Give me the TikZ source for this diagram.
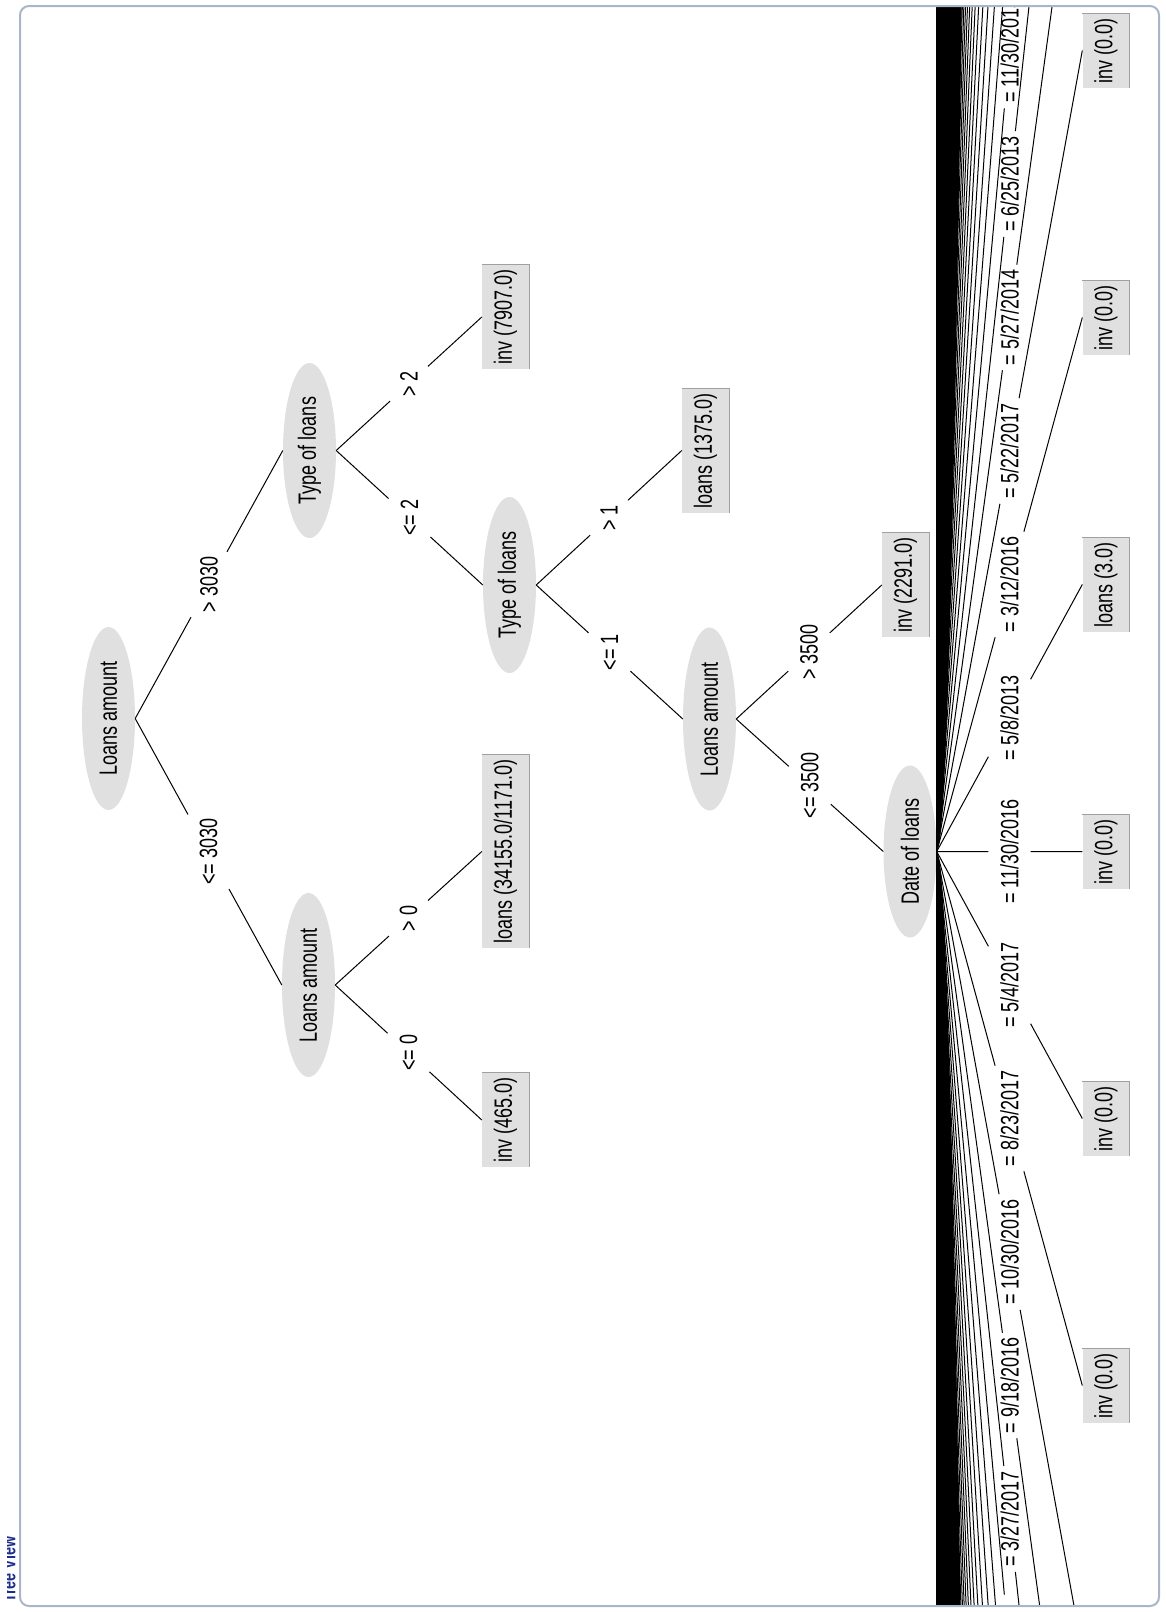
\documentclass[tikz,border=0pt]{standalone}
\usepackage{graphicx}
\usepackage{fontspec}
\setmainfont{Liberation Sans}
\usetikzlibrary{shapes.geometric,calc}
\definecolor{nodegray}{HTML}{E0E0E0}
\definecolor{shadowgray}{HTML}{A0A0A0}
\definecolor{framecol}{HTML}{A9B6C8}
\definecolor{titleblue}{HTML}{1C2E8C}
\newcommand\tx[1]{\scalebox{0.72}[1]{#1}}
\newcommand\gapedge[3]{%
  \draw[edge] (#1) -- ($(#1)!{0.5-#3}!(#2)$);
  \draw[edge] ($(#1)!{0.5+#3}!(#2)$) -- (#2);}
\begin{document}
\begin{tikzpicture}[x=1pt,y=-1pt,
  every node/.style={font=\fontsize{25}{30}\selectfont},
  ellnode/.style={ellipse, fill=nodegray, rotate=90, inner sep=0pt, minimum height=53pt, minimum width=#1},
  leafnode/.style={rectangle, fill=nodegray, rotate=90, inner xsep=4.5pt, inner ysep=0pt, minimum height=47pt},
  leafedge/.style={shadowgray, line width=1pt},
  edgelab/.style={rotate=90, inner sep=0pt},
  edge/.style={line width=1pt, black},
]
\useasboundingbox (0,0) rectangle (1165,1612);
\begin{scope}
\clip[rounded corners=8pt] (21,7) rectangle (1158,1605);
% inner nodes
\node[ellnode=183pt] (r) at (108.5,718.5) {\tx{Loans amount}};
\node[ellnode=175pt] (t1) at (309.5,450.5) {\tx{Type of loans}};
\node[ellnode=184pt] (a2) at (308.5,985) {\tx{Loans amount}};
\node[ellnode=176pt] (t2) at (509.5,585) {\tx{Type of loans}};
\node[ellnode=183pt] (a3) at (709.5,719) {\tx{Loans amount}};
\node[ellnode=172pt] (dt) at (910,851.5) {\tx{Date of loans}};
% leaves
\node[leafnode] (l1) at (505.5,317) {\tx{inv (7907.0)}};
\node[leafnode] (l2) at (505.5,851.5) {\tx{loans (34155.0/1171.0)}};
\node[leafnode] (l3) at (505.5,1120) {\tx{inv (465.0)}};
\node[leafnode] (l4) at (705.5,450.5) {\tx{loans (1375.0)}};
\node[leafnode] (l5) at (905.5,585) {\tx{inv (2291.0)}};
\node[leafnode] (fm3) at (1106,50.5) {\tx{inv (0.0)}};
\node[leafnode] (fm2) at (1106,317.5) {\tx{inv (0.0)}};
\node[leafnode] (fm1) at (1106,584.5) {\tx{loans (3.0)}};
\node[leafnode] (f0) at (1106,851.5) {\tx{inv (0.0)}};
\node[leafnode] (f1) at (1106,1118.5) {\tx{inv (0.0)}};
\node[leafnode] (f2) at (1106,1385.5) {\tx{inv (0.0)}};
\foreach \n in {l1,l2,l3,l4,l5,fm3,fm2,fm1,f0,f1,f2}
  \draw[leafedge] (\n.north east) -- (\n.south east) -- (\n.south west);
% main edges
\gapedge{r.south}{a2.north}{0.140}
\node[edgelab] (e1) at ($(r.south)!0.5!(a2.north)$) {\tx{<= 3030}};
\gapedge{r.south}{t1.north}{0.122}
\node[edgelab] (e2) at ($(r.south)!0.5!(t1.north)$) {\tx{> 3030}};
\gapedge{a2.south}{l2.north}{0.133}
\node[edgelab] (e3) at ($(a2.south)!0.5!(l2.north)$) {\tx{> 0}};
\gapedge{a2.south}{l3.north}{0.143}
\node[edgelab] (e4) at ($(a2.south)!0.5!(l3.north)$) {\tx{<= 0}};
\gapedge{t1.south}{l1.north}{0.130}
\node[edgelab] (e5) at ($(t1.south)!0.5!(l1.north)$) {\tx{> 2}};
\gapedge{t1.south}{t2.north}{0.143}
\node[edgelab] (e6) at ($(t1.south)!0.5!(t2.north)$) {\tx{<= 2}};
\gapedge{t2.south}{l4.north}{0.130}
\node[edgelab] (e7) at ($(t2.south)!0.5!(l4.north)$) {\tx{> 1}};
\gapedge{t2.south}{a3.north}{0.143}
\node[edgelab] (e8) at ($(t2.south)!0.5!(a3.north)$) {\tx{<= 1}};
\gapedge{a3.south}{l5.north}{0.143}
\node[edgelab] (e9) at ($(a3.south)!0.5!(l5.north)$) {\tx{> 3500}};
\gapedge{a3.south}{dt.north}{0.143}
\node[edgelab] (e10) at ($(a3.south)!0.5!(dt.north)$) {\tx{<= 3500}};
% fan of the date node
\foreach \k in {3,...,40} {
  \coordinate (fp\k) at (1082.5,{851.5+267*\k});
  \coordinate (fn\k) at (1082.5,{851.5-267*\k});
}
\fill[black] (936,-10) -- plot[domain=-860:760, samples=163, variable=\t]
  ({937+1.15*sqrt(abs(\t)/267*146)}, {851.5+\t}) -- (936,1620) -- cycle;
\foreach \k in {7,...,40} {
  \draw[edge] (dt.south) -- (fp\k);
  \draw[edge] (dt.south) -- (fn\k);
}
\gapedge{dt.south}{fn6}{0.0361}
\node[edgelab] (d1) at ($(dt.south)!0.5!(fn6)$) {\tx{= 11/30/2013}};
\gapedge{dt.south}{fn5}{0.0396}
\node[edgelab] (d2) at ($(dt.south)!0.5!(fn5)$) {\tx{= 6/25/2013}};
\gapedge{dt.south}{fn4}{0.0494}
\node[edgelab] (d3) at ($(dt.south)!0.5!(fn4)$) {\tx{= 5/27/2014}};
\gapedge{dt.south}{fm3.north}{0.0659}
\node[edgelab] (d4) at ($(dt.south)!0.5!(fm3.north)$) {\tx{= 5/22/2017}};
\gapedge{dt.south}{fm2.north}{0.0989}
\node[edgelab] (d5) at ($(dt.south)!0.5!(fm2.north)$) {\tx{= 3/12/2016}};
\gapedge{dt.south}{fm1.north}{0.145}
\node[edgelab] (d6) at ($(dt.south)!0.5!(fm1.north)$) {\tx{= 5/8/2013}};
\gapedge{dt.south}{f0.north}{0.145}
\node[edgelab] (d7) at ($(dt.south)!0.5!(f0.north)$) {\tx{= 11/30/2016}};
\gapedge{dt.south}{f1.north}{0.145}
\node[edgelab] (d8) at ($(dt.south)!0.5!(f1.north)$) {\tx{= 5/4/2017}};
\gapedge{dt.south}{f2.north}{0.0989}
\node[edgelab] (d9) at ($(dt.south)!0.5!(f2.north)$) {\tx{= 8/23/2017}};
\gapedge{dt.south}{fp3}{0.0722}
\node[edgelab] (d10) at ($(dt.south)!0.5!(fp3)$) {\tx{= 10/30/2016}};
\gapedge{dt.south}{fp4}{0.0494}
\node[edgelab] (d11) at ($(dt.south)!0.5!(fp4)$) {\tx{= 9/18/2016}};
\gapedge{dt.south}{fp5}{0.0396}
\node[edgelab] (d12) at ($(dt.south)!0.5!(fp5)$) {\tx{= 3/27/2017}};
\gapedge{dt.south}{fp6}{0.0361}
\end{scope}
% frame and title
\draw[framecol, line width=2pt, rounded corners=9pt] (20,6) rectangle (1159,1606);
\begin{scope}
\clip (7.5,1500) rectangle (19,1612);
\node[rotate=90, anchor=base west, inner sep=0pt, text=titleblue,
  font=\fontsize{20}{20}\selectfont\bfseries] (title) at (15.5,1603) {\scalebox{0.72}[1]{Tree View}};
\end{scope}
\end{tikzpicture}
\end{document}
